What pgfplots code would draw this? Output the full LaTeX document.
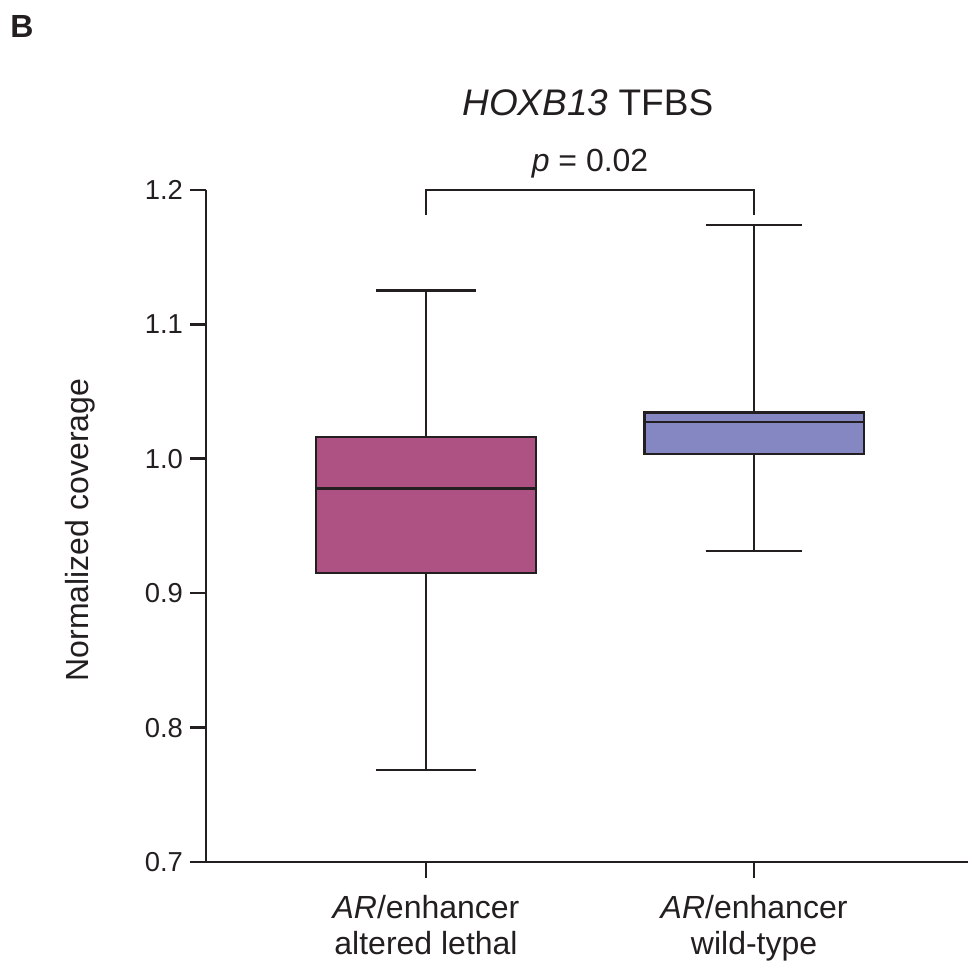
\documentclass[border=0pt]{standalone}
\usepackage{fontspec}
\setmainfont{Liberation Sans}
\usepackage{pgfplots}
\pgfplotsset{compat=1.18}
\usepgfplotslibrary{statistics}
\definecolor{boxA}{HTML}{AE5284}
\definecolor{boxB}{HTML}{8587C2}
\definecolor{ink}{HTML}{231F20}
\begin{document}
\begin{tikzpicture}
\useasboundingbox (0,0) rectangle (485.5pt,487.5pt);
\begin{axis}[
  at={(103pt,56.5pt)}, anchor=south west,
  scale only axis, width=381pt, height=336pt,
  xmin=-0.6707, xmax=1.652, ymin=0.7, ymax=1.2,
  clip=false,
  boxplot/draw direction=y,
  axis x line*=bottom, axis y line*=left,
  axis line style={ink, line width=1.3pt, -},
  ytick={0.7,0.8,0.9,1.0,1.1,1.2},
  /pgf/number format/assume math mode=true,
  yticklabel style={/pgf/number format/fixed, /pgf/number format/fixed zerofill, /pgf/number format/precision=1, font=\fontsize{13.7}{16}\selectfont, text=ink},
  xtick={0,1},
  xticklabels={{\textit{AR}/enhancer\\altered lethal},{\textit{AR}/enhancer\\wild-type}},
  xticklabel style={align=center, font=\fontsize{16}{18}\selectfont, text=ink, yshift=-5pt},
  tick style={ink, line width=1.3pt},
  tick align=outside, major tick length=8pt,
  ylabel={Normalized coverage},
  every axis y label/.style={at={(axis description cs:-0.165,0.494)}, rotate=90, anchor=center, font=\fontsize{16}{18}\selectfont, text=ink},
]
\addplot[boxplot prepared={draw direction=y, draw position=0, median=0.978, upper quartile=1.0162, lower quartile=0.915, upper whisker=1.125, lower whisker=0.7685, box extend=0.67, whisker extend=0.305}, draw=ink, fill=boxA, line width=1.3pt, solid] coordinates {};
\addplot[boxplot prepared={draw direction=y, draw position=1, median=1.0274, upper quartile=1.0345, lower quartile=1.0036, upper whisker=1.174, lower whisker=0.9314, box extend=0.67, whisker extend=0.295}, draw=ink, fill=boxB, line width=1.3pt, solid] coordinates {};
\draw[ink, line width=1.3pt] (axis cs:0,1.1814) -- (axis cs:0,1.2) -- (axis cs:1,1.2) -- (axis cs:1,1.1814);
\node[font=\fontsize{16}{18}\selectfont, text=ink] at (axis description cs:0.504,1.0387) {\textit{p} = 0.02};
\node[font=\fontsize{18.5}{20}\selectfont, text=ink] at (axis description cs:0.501,1.1295) {\textit{HOXB13} TFBS};
\node[font=\fontsize{16}{18}\selectfont\bfseries, text=ink] at (axis description cs:-0.2415,1.244) {B};
\end{axis}
\end{tikzpicture}
\end{document}
